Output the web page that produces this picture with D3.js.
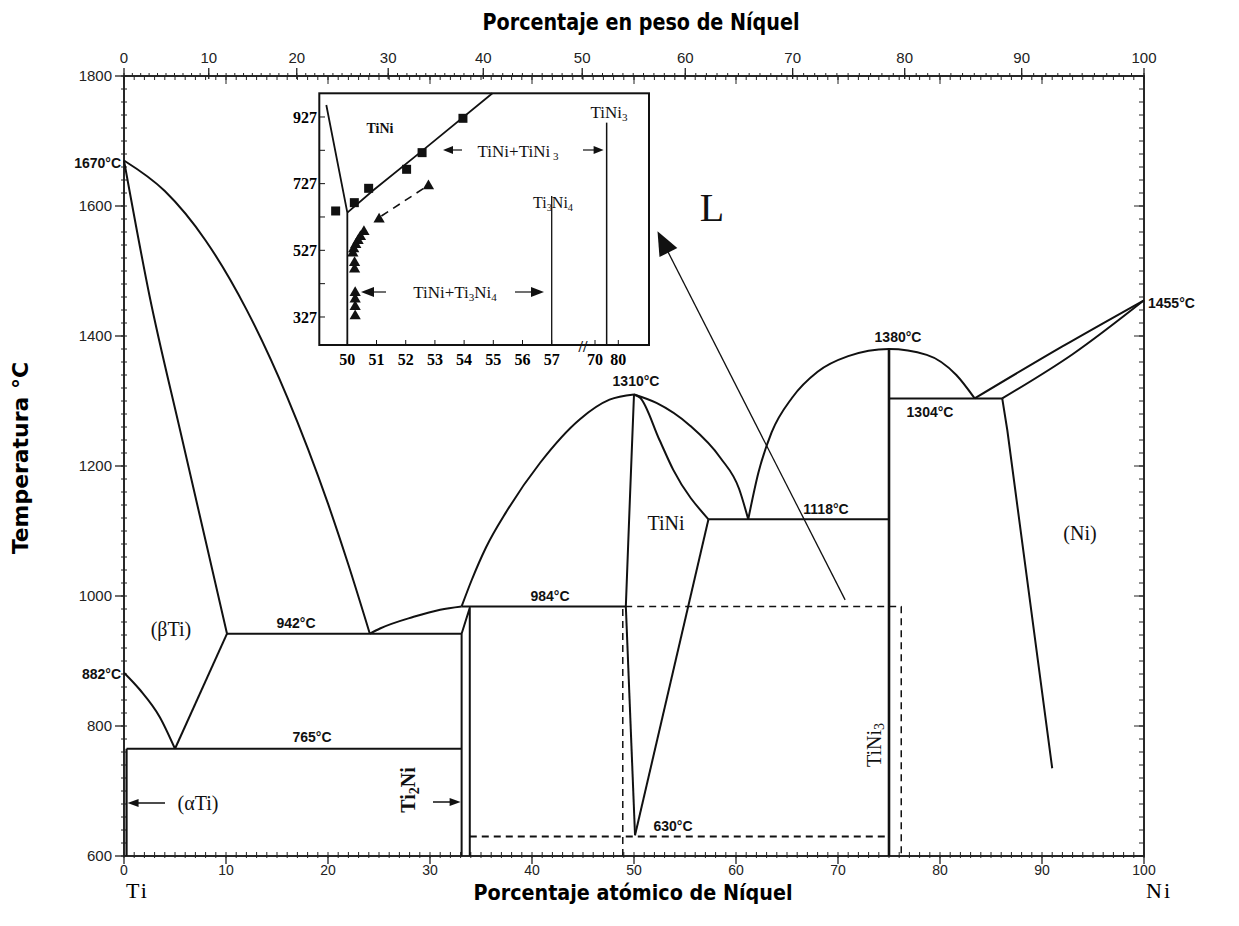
<!DOCTYPE html>
<html><head><meta charset="utf-8">
<script src="https://cdn.jsdelivr.net/npm/d3@7"></script>
<style>body{margin:0;background:#fff}svg{display:block}</style>
</head><body><svg id="c" width="1239" height="926"></svg>
<script>
// ---------------- DATA ----------------
const tempTicks = [600, 800, 1000, 1200, 1400, 1600, 1800];
const atTicks = [0, 10, 20, 30, 40, 50, 60, 70, 80, 90, 100];
const wtTicks = [0, 10, 20, 30, 40, 50, 60, 70, 80, 90, 100];
const insetTempTicks = [327, 527, 727, 927];
const insetAtTicks = [50, 51, 52, 53, 54, 55, 56, 57, 70, 80];

// phase boundaries: [at% Ni, T °C]
const tiLiquidus = [[0,1670],[4,1623],[8,1547],[12,1441],[16,1306],[20,1142],[22,1048],[24.1,942]];
const betaSolidus = [[0,1670],[2.5,1462],[5.5,1255],[8,1085],[10.1,942]];
const alphaTransus = [[0,882],[1.6,855],[3.5,814],[5,765]];
const betaSolvus = [[5,765],[10.1,942]];
const ti2NiLiquidus = [[24.1,942],[25.1,950],[28.4,968],[31,979],[33.1,984]];
const tiNiLeftLiquidus = [[33.1,984],[34.1,1025],[35.5,1075],[37.5,1130],[40.8,1205],[44.7,1272],[47.6,1302],[50,1310]];
const tiNiLeftSolidus = [[50,1310],[49.6,1150],[49.2,984]];
const tiNiLeftSolvus = [[49.2,984],[50.1,632]];
const tiNiRightLiquidus = [[50,1310],[52.2,1297],[55.5,1262],[58.5,1212],[60.3,1165],[61.2,1118]];
const tiNiRightSolidus = [[50,1310],[50.6,1305],[52.5,1240],[53.85,1194],[57.3,1118]];
const tiNiRightSolvus = [[57.3,1118],[50.1,632]];
const tiNi3Liquidus = [[61.2,1118],[62.2,1190],[63.5,1252],[65.5,1305],[68,1345],[71,1369],[75,1380],[78.7,1371],[81.6,1340],[83.4,1304]];
const niLiquidus = [[83.4,1304],[92,1384],[100,1455]];
const niSolidus = [[86.1,1304],[93,1372],[100,1455]];
const niSolvus = [[86.1,1304],[86.6,1255],[91,735]];
const ti2NiPhase = [[33.1,600],[33.1,942],[33.9,982],[33.9,600]];
const alphaSolvus = [[0.25,765],[0.25,600]];
const tiNi3Phase = [[75,1380],[75,600]];
const isotherms = [
  [[10.1,942],[33.1,942]],
  [[0.25,765],[33.1,765]],
  [[33.1,984],[49.2,984]],
  [[57.3,1118],[75,1118]],
  [[75,1304],[86.1,1304]]
];
const dashed630 = [[33.9,630],[75,630]];
const dashedBox = [[48.9,600],[48.9,984],[76.2,984],[76.2,600]];
const zoomArrow = [[70.7,994],[52.6,1552]];

// inset data
const insetSquares = [[49.6,645],[50.24,670],[50.73,713],[52.03,770],[52.56,820],[53.96,923]];
const insetTriangles = [[52.71,720],[51.02,620],[50.5,583],[50.38,568],[50.3,556],[50.22,544],[50.15,531],[50.12,518],[50.18,490],[50.18,470],[50.2,400],[50.2,380],[50.2,358],[50.2,330]];
const insetSolvusLine = [[50,640],[50.9,708],[52.53,823],[54.97,998]];
const insetSolidusLine = [[49.28,963],[50,640],[50,243]];
const insetDashed = [[52.6,712],[51.1,626]];
const insetTi3Ni4 = [[57,690],[57,243]];
const insetTiNi3 = [[75,910],[75,243]];

// ---------------- DRAW ----------------
const svg = d3.select("#c");
const x = d3.scaleLinear([0,100],[124,1144]);
const y = d3.scaleLinear([600,1800],[856,76]);
const straight = d3.line().x(d=>x(d[0])).y(d=>y(d[1]));
const smooth = d3.line().x(d=>x(d[0])).y(d=>y(d[1])).curve(d3.curveCatmullRom.alpha(0.5));
const mono = d3.line().x(d=>x(d[0])).y(d=>y(d[1])).curve(d3.curveMonotoneX);
const wtToAt = w => { const a=w/58.69, b=(100-w)/47.87; return 100*a/(a+b); };

const SANS = "'Liberation Sans', Arial, sans-serif";
const SERIF = "'Liberation Serif', 'Times New Roman', serif";
const COND = "'Liberation Sans Narrow', 'DejaVu Sans Condensed', 'Liberation Sans', sans-serif";

const g = svg.append("g");
function draw(data, kind, w=2, dash=null){
  const gen = kind==="mono" ? mono : (kind ? smooth : straight);
  const p = g.append("path").attr("d",gen(data))
    .attr("fill","none").attr("stroke","#111").attr("stroke-width",w)
    .attr("stroke-linejoin","round").attr("stroke-linecap","butt");
  if(dash) p.attr("stroke-dasharray",dash);
  return p;
}

// frame
g.append("rect").attr("x",x(0)).attr("y",y(1800)).attr("width",x(100)-x(0)).attr("height",y(600)-y(1800))
  .attr("fill","none").attr("stroke","#111").attr("stroke-width",1.8);

// left axis
const minorT = d3.range(600,1801,20);
g.selectAll(".lmin").data(minorT).join("line").attr("x1",x(0)-3).attr("x2",x(0)+3)
  .attr("y1",d=>y(d)).attr("y2",d=>y(d)).attr("stroke","#222").attr("stroke-width",1);
g.selectAll(".lmaj").data(tempTicks).join("line").attr("x1",x(0)-9).attr("x2",x(0))
  .attr("y1",d=>y(d)).attr("y2",d=>y(d)).attr("stroke","#222").attr("stroke-width",1.3);
g.selectAll(".llab").data(tempTicks).join("text").attr("x",x(0)-12).attr("y",d=>y(d)).attr("dy","0.36em")
  .attr("text-anchor","end").attr("font-family",SANS).attr("font-size",15).attr("fill","#222").text(d=>d);
// right axis
g.selectAll(".rmin").data(minorT).join("line").attr("x1",x(100)-5).attr("x2",x(100))
  .attr("y1",d=>y(d)).attr("y2",d=>y(d)).attr("stroke","#222").attr("stroke-width",1);
g.selectAll(".rmaj").data(tempTicks).join("line").attr("x1",x(100)-10).attr("x2",x(100))
  .attr("y1",d=>y(d)).attr("y2",d=>y(d)).attr("stroke","#222").attr("stroke-width",1);

// bottom axis (at%)
const minorAt = d3.range(0,101,1);
g.selectAll(".bmin").data(minorAt).join("line").attr("x1",d=>x(d)).attr("x2",d=>x(d))
  .attr("y1",y(600)-4).attr("y2",y(600)+2).attr("stroke","#222").attr("stroke-width",1);
g.selectAll(".bmaj").data(atTicks).join("line").attr("x1",d=>x(d)).attr("x2",d=>x(d))
  .attr("y1",y(600)).attr("y2",y(600)+8).attr("stroke","#222").attr("stroke-width",1.3);
g.selectAll(".blab").data(atTicks).join("text").attr("x",d=>x(d)).attr("y",y(600)+19)
  .attr("text-anchor","middle").attr("font-family",SANS).attr("font-size",14).attr("fill","#222").text(d=>d);

// top axis: at% inside, wt% outside
g.selectAll(".tmin").data(minorAt).join("line").attr("x1",d=>x(d)).attr("x2",d=>x(d))
  .attr("y1",y(1800)).attr("y2",y(1800)+4).attr("stroke","#222").attr("stroke-width",1);
g.selectAll(".tmaj").data(atTicks).join("line").attr("x1",d=>x(d)).attr("x2",d=>x(d))
  .attr("y1",y(1800)).attr("y2",y(1800)+8).attr("stroke","#222").attr("stroke-width",1);
const minorWt = d3.range(0,101,1);
g.selectAll(".wmin").data(minorWt).join("line").attr("x1",d=>x(wtToAt(d))).attr("x2",d=>x(wtToAt(d)))
  .attr("y1",y(1800)-3).attr("y2",y(1800)).attr("stroke","#222").attr("stroke-width",1);
g.selectAll(".wmaj").data(wtTicks).join("line").attr("x1",d=>x(wtToAt(d))).attr("x2",d=>x(wtToAt(d)))
  .attr("y1",y(1800)-8).attr("y2",y(1800)+3).attr("stroke","#222").attr("stroke-width",1.3);
g.selectAll(".wlab").data(wtTicks).join("text").attr("x",d=>x(wtToAt(d))).attr("y",y(1800)-13)
  .attr("text-anchor","middle").attr("font-family",SANS).attr("font-size",15).attr("fill","#222").text(d=>d);

// axis titles
svg.append("text").attr("x",641).attr("y",30).attr("text-anchor","middle").attr("font-family",COND)
  .attr("font-weight","bold").attr("font-size",23).attr("textLength",317).attr("lengthAdjust","spacingAndGlyphs")
  .text("Porcentaje en peso de Níquel");
svg.append("text").attr("x",633).attr("y",900).attr("text-anchor","middle").attr("font-family",COND)
  .attr("font-weight","bold").attr("font-size",21).attr("textLength",319).attr("lengthAdjust","spacingAndGlyphs")
  .text("Porcentaje atómico de Níquel");
svg.append("text").attr("transform","translate(28,458) rotate(-90)").attr("text-anchor","middle").attr("font-family",COND)
  .attr("font-weight","bold").attr("font-size",22).attr("textLength",192).attr("lengthAdjust","spacingAndGlyphs")
  .text("Temperatura °C");
svg.append("text").attr("x",126).attr("y",898).attr("font-family",SERIF).attr("font-size",22).attr("letter-spacing",2).text("Ti");
svg.append("text").attr("x",1146).attr("y",898).attr("font-family",SERIF).attr("font-size",22).attr("letter-spacing",2).text("Ni");

// phase boundaries
draw(tiLiquidus,"mono");
draw(betaSolidus,"mono");
draw(alphaTransus,"mono");
draw(betaSolvus,false);
draw(ti2NiLiquidus,"mono");
draw(tiNiLeftLiquidus,"mono");
draw(tiNiLeftSolidus,true);
draw(tiNiLeftSolvus,false);
draw(tiNiRightLiquidus,"mono");
draw(tiNiRightSolidus,"mono");
draw(tiNiRightSolvus,false);
draw(tiNi3Liquidus,"mono");
draw(niLiquidus,"mono");
draw(niSolidus,"mono");
draw(niSolvus,false);
draw(ti2NiPhase,false);
draw(alphaSolvus,false,2.2);
draw(tiNi3Phase,false,2.6);
isotherms.forEach(s=>draw(s,false));
draw(dashed630,false,1.8,"7,5");
draw(dashedBox,false,1.5,"7,5");

// annotation helpers
function lab(txt, px, py, opt={}){
  const t = svg.append("text").attr("x",px).attr("y",py).attr("font-family",opt.font||SANS)
    .attr("font-size",opt.size||14).attr("font-weight",opt.weight||"bold").attr("fill","#111")
    .attr("text-anchor",opt.anchor||"middle").attr("dy",opt.dy||"0.35em");
  if(opt.ls) t.attr("letter-spacing",opt.ls);
  t.text(txt); return t;
}
function arrowHead(tipX, tipY, dirX, dirY, len, half){
  const n = Math.hypot(dirX,dirY), ux=dirX/n, uy=dirY/n;
  const bx = tipX-ux*len, by = tipY-uy*len;
  svg.append("path").attr("d",`M${tipX},${tipY}L${bx-uy*half},${by+ux*half}L${bx+uy*half},${by-ux*half}Z`).attr("fill","#111");
}

lab("1670°C", x(0)-3, y(1670)+3, {anchor:"end"});
lab("882°C", x(0)-3, y(882)+1, {anchor:"end"});
lab("942°C", 296, y(942)-11);
lab("765°C", 312, y(765)-12);
lab("984°C", 550, y(984)-10);
lab("1310°C", 636, y(1310)-13);
lab("1118°C", 826, y(1118)-10);
lab("1380°C", 898, y(1380)-12);
lab("1304°C", 930, y(1304)+14);
lab("1455°C", x(100)+4, y(1455)+3, {anchor:"start"});
lab("630°C", 673, y(630)-10);

lab("(βTi)", 171, 629, {font:SERIF, size:20, weight:"normal"});
lab("(αTi)", 198, 803, {font:SERIF, size:20, weight:"normal"});
lab("TiNi", 666, 523, {font:SERIF, size:20, weight:"normal"});
lab("(Ni)", 1080, 533, {font:SERIF, size:20, weight:"normal"});
lab("L", 712, 207, {font:SERIF, size:40, weight:"normal"});

// rotated phase names
const tn3 = svg.append("text").attr("transform","translate(881,745) rotate(-90)").attr("text-anchor","middle")
  .attr("font-family",SERIF).attr("font-size",20).attr("fill","#111");
tn3.append("tspan").text("TiNi");
tn3.append("tspan").attr("font-size",14).attr("dy",3).text("3");
const t2n = svg.append("text").attr("transform","translate(415,790) rotate(-90)").attr("text-anchor","middle")
  .attr("font-family",SERIF).attr("font-weight","bold").attr("font-size",20).attr("fill","#111");
t2n.append("tspan").text("Ti");
t2n.append("tspan").attr("font-size",14).attr("dy",4).text("2");
t2n.append("tspan").attr("dy",-4).text("Ni");

// small arrows
svg.append("line").attr("x1",165).attr("x2",135).attr("y1",803).attr("y2",803).attr("stroke","#111").attr("stroke-width",1.5);
arrowHead(x(0.25)+1,803,-1,0,11,4);
svg.append("line").attr("x1",433).attr("x2",452).attr("y1",802).attr("y2",802).attr("stroke","#111").attr("stroke-width",1.5);
arrowHead(x(33.1)-1,802,1,0,11,4);

// zoom arrow
draw(zoomArrow,false,1.3);
{
  const [a,b] = zoomArrow;
  const x1=x(a[0]), y1=y(a[1]), x2=x(b[0]), y2=y(b[1]);
  arrowHead(x2-3,y2-6,x2-x1,y2-y1,24,10);
}

// ---------------- INSET ----------------
const ix = d3.scaleLinear([49.04,57,70,80,81.33],[319.3,551.7,595,618.3,649]);
const iy = d3.scaleLinear([243,998],[345,93.3]);
const ig = svg.append("g");
const iline = d3.line().x(d=>ix(d[0])).y(d=>iy(d[1]));
ig.append("rect").attr("x",319.3).attr("y",93.3).attr("width",649-319.3).attr("height",345-93.3)
  .attr("fill","#fff").attr("stroke","#111").attr("stroke-width",2);
function idraw(data,w=1.8,dash=null){
  const p = ig.append("path").attr("d",iline(data)).attr("fill","none").attr("stroke","#111").attr("stroke-width",w);
  if(dash) p.attr("stroke-dasharray",dash);
}
// ticks
ig.selectAll(".iyt").data(d3.range(327,998,100)).join("line").attr("x1",319.3).attr("x2",325)
  .attr("y1",d=>iy(d)).attr("y2",d=>iy(d)).attr("stroke","#111").attr("stroke-width",1);
ig.selectAll(".iyl").data(insetTempTicks).join("text").attr("x",317).attr("y",d=>iy(d)).attr("dy","0.35em")
  .attr("text-anchor","end").attr("font-family",SERIF).attr("font-weight","bold").attr("font-size",16).text(d=>d);
ig.selectAll(".ixt").data(insetAtTicks).join("line").attr("x1",d=>ix(d)).attr("x2",d=>ix(d))
  .attr("y1",345).attr("y2",340).attr("stroke","#111").attr("stroke-width",1);
ig.selectAll(".ixl").data(insetAtTicks).join("text").attr("x",d=>ix(d)).attr("y",359).attr("dy","0.35em")
  .attr("text-anchor","middle").attr("font-family",SERIF).attr("font-weight","bold").attr("font-size",16).text(d=>d);
// axis break
ig.append("text").attr("x",583).attr("y",346).attr("dy","0.35em").attr("text-anchor","middle")
  .attr("font-family",SERIF).attr("font-weight","bold").attr("font-size",16).attr("fill","#111").text("//");

idraw(insetSolidusLine,1.8);
idraw(insetSolvusLine,1.8);
idraw(insetTi3Ni4,1.3);
idraw(insetTiNi3,1.5);
idraw(insetDashed,1.6,"8,6");
ig.selectAll(".sq").data(insetSquares).join("rect").attr("x",d=>ix(d[0])-4.5).attr("y",d=>iy(d[1])-4.5)
  .attr("width",9).attr("height",9).attr("fill","#111");
ig.selectAll(".tri").data(insetTriangles).join("path")
  .attr("d",d=>d3.symbol(d3.symbolTriangle,55)())
  .attr("transform",d=>`translate(${ix(d[0])+2},${iy(d[1])})`).attr("fill","#111");

// inset labels
function ilab(parts, px, py, size, weight="normal", anchor="middle"){
  const t = ig.append("text").attr("x",px).attr("y",py).attr("dy","0.35em").attr("text-anchor",anchor)
    .attr("font-family",SERIF).attr("font-size",size).attr("font-weight",weight).attr("fill","#111");
  parts.forEach(p=>{
    const s = t.append("tspan").text(p[0]);
    if(p[1]==="sub") s.attr("font-size",size*0.65).attr("dy",3);
    if(p[1]==="up") s.attr("dy",-3);
  });
  return t;
}
ilab([["TiNi"]], 380, 128, 14, "bold");
ilab([["TiNi"],["3","sub"]], 609, 112, 17);
ilab([["Ti"],["3","sub"],["Ni","up"],["4","sub"]], 553, 202, 16);
ilab([["TiNi+TiNi"],[" 3","sub"]], 518, 151, 17);
ilab([["TiNi+Ti"],["3","sub"],["Ni","up"],["4","sub"]], 455, 292, 17);
// inset arrows
ig.append("line").attr("x1",450).attr("x2",462).attr("y1",150).attr("y2",150).attr("stroke","#111").attr("stroke-width",1.2);
arrowHead(443,150,-1,0,10,4);
ig.append("line").attr("x1",583).attr("x2",595).attr("y1",150).attr("y2",150).attr("stroke","#111").attr("stroke-width",1.2);
arrowHead(ix(75)-3,150,1,0,10,4);
ig.append("line").attr("x1",370).attr("x2",386).attr("y1",292).attr("y2",292).attr("stroke","#111").attr("stroke-width",1.2);
arrowHead(361,292,-1,0,13,5);
ig.append("line").attr("x1",515).attr("x2",532).attr("y1",292).attr("y2",292).attr("stroke","#111").attr("stroke-width",1.2);
arrowHead(544,292,1,0,13,5);
</script></body></html>
